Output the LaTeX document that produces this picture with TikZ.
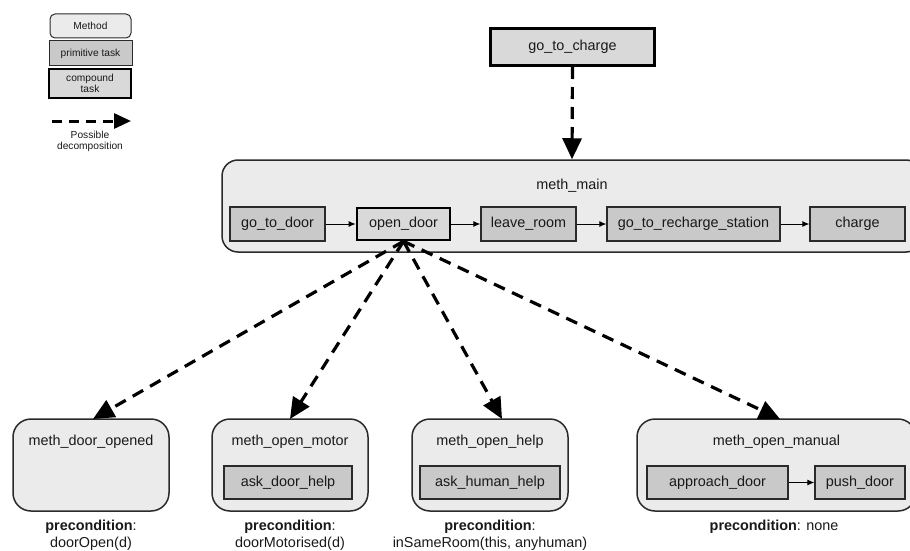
\documentclass[tikz,border=0pt]{standalone}
\usepackage{fontspec}
\setmainfont{Liberation Sans}
\usetikzlibrary{arrows.meta,calc}
\definecolor{methfill}{HTML}{EBEBEB}
\definecolor{primfill}{HTML}{C9C9C9}
\definecolor{compfill}{HTML}{D9D9D9}
\definecolor{edge}{HTML}{2A2A2A}
\tikzset{
  txt/.style={font=\fontsize{14.4}{17}\selectfont, text=black!90},
  small/.style={font=\fontsize{10.2}{11.5}\selectfont, text=black!90},
  methbox/.style={draw=edge, line width=1.5pt, fill=methfill, rounded corners=18pt, inner sep=0pt},
  primbox/.style={draw=edge, line width=1.2pt, fill=primfill, inner sep=0pt, txt},
  compbox/.style={draw=black, line width=2.6pt, fill=compfill, inner sep=0pt, txt},
  decomp/.style={line width=3.2pt, dash pattern=on 12pt off 8pt, -{Triangle[length=21pt,width=19pt]}},
  seq/.style={line width=1pt, -{Latex[length=7pt,width=6pt]}},
}
\begin{document}
\begin{tikzpicture}[x=1pt,y=-1pt]
\useasboundingbox (0,0) rectangle (910,551);
\clip (0,0) rectangle (910,551);
% legend
\node[methbox, rounded corners=5pt, line width=1pt, minimum width=81pt, minimum height=24pt, small] (lmeth) at (90.5,26) {Method};
\node[primbox, line width=1pt, minimum width=83pt, minimum height=25pt, small] (lprim) at (90.5,53.5) {primitive task};
\node[compbox, line width=2.2pt, minimum width=82pt, minimum height=29pt, small, align=center] (lcomp) at (90,83.5) {compound\\task};
\coordinate (la) at (52,121);
\coordinate (lb) at (131,121);
\draw[decomp, line width=3pt, dash pattern=on 10pt off 7pt, -{Triangle[length=17pt,width=15pt]}] (la) -- (lb);
\node[small, align=center] (lpos) at (90,141.5) {Possible\\decomposition};
% top compound task
\node[compbox, line width=3pt, minimum width=164pt, minimum height=37pt] (gtc) at (572.5,47) {go\_to\_charge};
% meth_main
\node[methbox, rounded corners=16pt, minimum width=700pt, minimum height=92pt] (main) at (572,206) {};
\node[txt] (maint) at (572,186) {meth\_main};
\draw[decomp] (gtc.south) -- (main.north);
\node[primbox, minimum width=95pt, minimum height=34pt] (gtd) at (277.5,224) {go\_to\_door};
\node[compbox, minimum width=93pt, minimum height=32pt] (od) at (403.5,224) {open\_door};
\node[primbox, minimum width=95pt, minimum height=34pt] (lr) at (528.5,224) {leave\_room};
\node[primbox, minimum width=173pt, minimum height=34pt] (grs) at (693.5,224) {go\_to\_recharge\_station};
\node[primbox, minimum width=95pt, minimum height=34pt] (ch) at (857.5,224) {charge};
\draw[seq] (gtd) -- (od);
\draw[seq] (od) -- (lr);
\draw[seq] (lr) -- (grs);
\draw[seq] (grs) -- (ch);
% bottom methods
\node[methbox, minimum width=156pt, minimum height=92pt] (mdo) at (91,465) {};
\node[txt] (mdot) at (91,442) {meth\_door\_opened};
\node[methbox, minimum width=156pt, minimum height=92pt] (mom) at (290,465) {};
\node[txt] (momt) at (290,442) {meth\_open\_motor};
\node[primbox, minimum width=128pt, minimum height=33pt] (adh) at (288,482.5) {ask\_door\_help};
\node[methbox, minimum width=156pt, minimum height=92pt] (moh) at (490,465) {};
\node[txt] (moht) at (490,442) {meth\_open\_help};
\node[primbox, minimum width=140pt, minimum height=33pt] (ahh) at (490,482.5) {ask\_human\_help};
\node[methbox, minimum width=279pt, minimum height=92pt] (mma) at (776.5,465) {};
\node[txt] (mmat) at (776.5,442) {meth\_open\_manual};
\node[primbox, minimum width=141pt, minimum height=33pt] (apd) at (717.5,482.5) {approach\_door};
\node[primbox, minimum width=90pt, minimum height=33pt] (pd) at (860,482.5) {push\_door};
\draw[seq] (apd) -- (pd);
% preconditions
\node[txt, align=center] (p1) at (91,535) {\textbf{precondition}:\\doorOpen(d)};
\node[txt, align=center] (p2) at (290,535) {\textbf{precondition}:\\doorMotorised(d)};
\node[txt, align=center] (p3) at (490,535) {\textbf{precondition}:\\inSameRoom(this, anyhuman)};
\node[txt] (p4) at (774,527) {\textbf{precondition}: none};
% decomposition arrows
\coordinate (t1) at (93,419);
\coordinate (t2) at (290,419);
\coordinate (t3) at (502,419);
\coordinate (t4) at (780,419);
\draw[decomp] (od.south) -- (t1);
\draw[decomp] (od.south) -- (t2);
\draw[decomp] (od.south) -- (t3);
\draw[decomp] (od.south) -- (t4);
\end{tikzpicture}
\end{document}
